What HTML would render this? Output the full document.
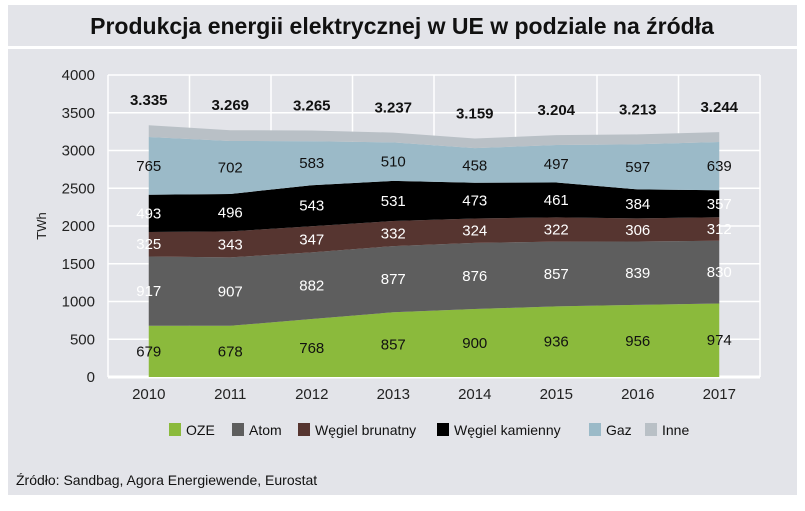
<!DOCTYPE html>
<html><head><meta charset="utf-8"><style>
body{margin:0;background:#fff;width:805px;height:506px;overflow:hidden;font-family:"Liberation Sans",sans-serif}
svg text{font-family:"Liberation Sans",sans-serif}
</style></head><body>
<svg id="chart" width="805" height="506">
<rect x="8" y="5" width="789" height="41" fill="#e3e4e9"/>
<text x="402" y="34" text-anchor="middle" font-size="23" font-weight="bold" fill="#111">Produkcja energii elektrycznej w UE w podziale na źródła</text>
<rect x="8" y="49" width="789" height="446" fill="#e3e4e9"/>
<g id="grid"></g><g id="areas"></g><g id="labels"></g><g id="axes"></g><g id="legend"></g>
<text x="16" y="485" font-size="14" fill="#111">Źródło: Sandbag, Agora Energiewende, Eurostat</text>
<text transform="translate(46,226) rotate(-90)" text-anchor="middle" font-size="13" fill="#222">TWh</text>
</svg>
<script>
const years=["2010","2011","2012","2013","2014","2015","2016","2017"];
const totals=[3335,3269,3265,3237,3159,3204,3213,3244];
const oze=[679,678,768,857,900,936,956,974];
const atom=[917,907,882,877,876,857,839,830];
const brunatny=[325,343,347,332,324,322,306,312];
const kamienny=[493,496,543,531,473,461,384,357];
const gaz=[765,702,583,510,458,497,597,639];
const totalLabels=["3.335","3.269","3.265","3.237","3.159","3.204","3.213","3.244"];
const yTicks=[0,500,1000,1500,2000,2500,3000,3500,4000];
const series=[
 {name:"OZE",vals:oze,color:"#8bba3c",txt:"#111"},
 {name:"Atom",vals:atom,color:"#5e5e5e",txt:"#fff"},
 {name:"Węgiel brunatny",vals:brunatny,color:"#563530",txt:"#fff"},
 {name:"Węgiel kamienny",vals:kamienny,color:"#000000",txt:"#fff"},
 {name:"Gaz",vals:gaz,color:"#9bbac8",txt:"#111"},
 {name:"Inne",vals:totals.map((t,i)=>t-oze[i]-atom[i]-brunatny[i]-kamienny[i]-gaz[i]),color:"#b9c0c6",txt:"#111"}
];
const NS="http://www.w3.org/2000/svg";
const L=108,R=760,T=75,B=377,yMax=4000;
const bw=(R-L)/years.length;
const x=i=>L+bw*(i+0.5);
const y=v=>B-(v/yMax)*(B-T);
function mk(tag,attrs,parent,txt){const e=document.createElementNS(NS,tag);for(const k in attrs)e.setAttribute(k,attrs[k]);if(txt!==undefined)e.textContent=txt;parent.appendChild(e);return e;}
const grid=document.getElementById('grid'),areas=document.getElementById('areas'),labels=document.getElementById('labels'),axes=document.getElementById('axes'),legend=document.getElementById('legend');
yTicks.forEach(t=>{
 const l=mk('line',{x1:L,x2:R,y1:y(t),y2:y(t),stroke:"#fff","stroke-width":t===0?3:1.5},grid);
 
 
 const tx=mk('text',{x:95,y:y(t)+5,"text-anchor":"end","font-size":15,fill:"#222"},axes,String(t));
 
 
});
for(let i=0;i<=years.length;i++){
 const l=mk('line',{x1:L+bw*i,x2:L+bw*i,y1:T,y2:B,stroke:"#fff","stroke-width":1.5},grid);
 
 
}
let base=years.map(()=>0);
series.forEach(s=>{
 const top=base.map((b,i)=>b+s.vals[i]);
 let d="M"+years.map((_,i)=>x(i)+","+y(top[i])).join(" L");
 for(let i=years.length-1;i>=0;i--)d+=" L"+x(i)+","+y(base[i]);
 const p=mk('path',{d:d+"Z",fill:s.color},areas);
 
 
 if(s.name!=="Inne"){
  years.forEach((_,i)=>{
   const t=mk('text',{x:x(i),y:y((base[i]+top[i])/2)+5,"text-anchor":"middle","font-size":15,fill:s.txt},labels,String(s.vals[i]));
   
   
  });
 }
 base=top;
});
years.forEach((yr,i)=>{
 const t=mk('text',{x:x(i),y:y(totals[i])-20,"text-anchor":"middle","font-size":15,"font-weight":"bold",fill:"#111"},labels,totalLabels[i]);
 
 
 const xl=mk('text',{x:x(i),y:399,"text-anchor":"middle","font-size":15,fill:"#222"},axes,yr);
 
 
});
const lx=[169,232,298,437,589,645];
series.forEach((s,i)=>{
 const g=mk('g',{},legend);
 
 
 mk('rect',{x:lx[i],y:423,width:12,height:13,fill:s.color},g);
 mk('text',{x:lx[i]+17,y:435,"font-size":14,fill:"#111"},g,s.name);
});
</script>
</body></html>
